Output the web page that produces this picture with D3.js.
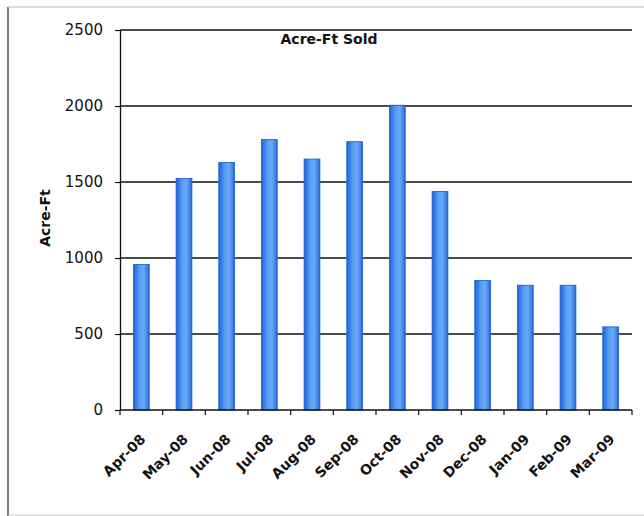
<!DOCTYPE html>
<html>
<head>
<meta charset="utf-8">
<script src="https://cdn.jsdelivr.net/npm/d3@7"></script>
<style>
  html, body { margin: 0; padding: 0; background: #fff; }
  svg { display: block; }
</style>
</head>
<body>
<svg id="chart" width="644" height="516"></svg>
<script>
const months = ["Apr-08","May-08","Jun-08","Jul-08","Aug-08","Sep-08","Oct-08","Nov-08","Dec-08","Jan-09","Feb-09","Mar-09"];
const acreFt = [957, 1524, 1629, 1779, 1651, 1765, 2005, 1438, 852, 821, 821, 547];
const yTicks = [0, 500, 1000, 1500, 2000, 2500];
const chartTitle = "Acre-Ft Sold";
const yTitle = "Acre-Ft";

const svg = d3.select("#chart");
const m = {left: 120, right: 632, top: 30, bottom: 410};

// frame
svg.append("line").attr("x1", 8).attr("x2", 8).attr("y1", 7).attr("y2", 516)
  .attr("stroke", "#222").attr("stroke-width", 1.2);
svg.append("line").attr("x1", 8).attr("x2", 644).attr("y1", 7).attr("y2", 7)
  .attr("stroke", "#bbb").attr("stroke-width", 1);
svg.append("line").attr("x1", 8).attr("x2", 644).attr("y1", 515).attr("y2", 515)
  .attr("stroke", "#ccc").attr("stroke-width", 1);

const x = d3.scaleBand().domain(months).range([m.left, m.right]).paddingInner(0.63).paddingOuter(0.315);
const y = d3.scaleLinear().domain([0, 2500]).range([m.bottom, m.top]);

// gradient
const defs = svg.append("defs");
const grad = defs.append("linearGradient").attr("id", "barGrad").attr("x1", "0").attr("x2", "1").attr("y1", "0").attr("y2", "0");
grad.append("stop").attr("offset", "0%").attr("stop-color", "#1d63da");
grad.append("stop").attr("offset", "40%").attr("stop-color", "#5a9ef2");
grad.append("stop").attr("offset", "65%").attr("stop-color", "#6aaaf5");
grad.append("stop").attr("offset", "100%").attr("stop-color", "#2469dc");

// gridlines
svg.append("g").selectAll("line").data(yTicks.filter(d => d > 0)).join("line")
  .attr("x1", m.left).attr("x2", m.right)
  .attr("y1", d => y(d)).attr("y2", d => y(d))
  .attr("stroke", "#111").attr("stroke-width", 1.6);

// bars
svg.append("g").selectAll("rect").data(months).join("rect")
  .attr("x", d => x(d))
  .attr("width", x.bandwidth())
  .attr("y", (d, i) => y(acreFt[i]))
  .attr("height", (d, i) => y(0) - y(acreFt[i]))
  .attr("fill", "url(#barGrad)")
  .attr("stroke", "#1a5ad0").attr("stroke-width", 0.8);

// y axis
const yAxis = d3.axisLeft(y).tickValues(yTicks).tickFormat(d3.format("d")).tickSize(5).tickPadding(12).tickSizeOuter(0);
const gy = svg.append("g").attr("transform", `translate(${m.left},0)`).call(yAxis);
gy.select(".domain").attr("stroke", "#111").attr("stroke-width", 1.3);
gy.selectAll(".tick line").attr("stroke", "#111").attr("stroke-width", 1.2);
gy.selectAll(".tick text").attr("font-family", "DejaVu Sans").attr("font-size", 15)
  .attr("fill", "#111");

// x axis: ticks at category boundaries
svg.append("line").attr("x1", m.left).attr("x2", m.right).attr("y1", y(0)).attr("y2", y(0))
  .attr("stroke", "#111").attr("stroke-width", 1.6);
const step = x.step();
const bounds = d3.range(months.length + 1).map(i => m.left + i * step);
svg.append("g").selectAll("line").data(bounds).join("line")
  .attr("x1", d => d).attr("x2", d => d)
  .attr("y1", y(0)).attr("y2", y(0) + 5)
  .attr("stroke", "#111").attr("stroke-width", 1.2);

svg.append("g").selectAll("text").data(months).join("text")
  .attr("transform", d => `translate(${x(d) + x.bandwidth() / 2 + 5},440) rotate(-45)`)
  .attr("text-anchor", "end")
  .attr("font-family", "DejaVu Sans").attr("font-weight", "bold").attr("font-size", 14)
  .attr("fill", "#111")
  .text(d => d);

// title
svg.append("text").attr("x", 329).attr("y", 44).attr("text-anchor", "middle")
  .attr("font-family", "DejaVu Sans").attr("font-weight", "bold").attr("font-size", 14)
  .attr("fill", "#111").text(chartTitle);

// y title
svg.append("text").attr("transform", "translate(50,218) rotate(-90)").attr("text-anchor", "middle")
  .attr("font-family", "DejaVu Sans").attr("font-weight", "bold").attr("font-size", 14)
  .attr("fill", "#111").text(yTitle);
</script>
</body>
</html>
